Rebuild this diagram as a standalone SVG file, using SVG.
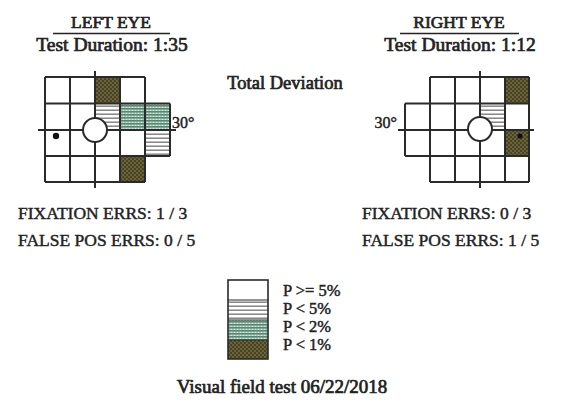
<svg xmlns="http://www.w3.org/2000/svg" width="561" height="407" viewBox="0 0 561 407">
<style>
.t{font-family:"Liberation Serif","Times New Roman",serif;fill:#222;stroke:#222;stroke-width:0.45}
.h{stroke-width:0.7}
.g{stroke:#2a2a2a;stroke-width:2;fill:none}
.c{fill:#fff;stroke:#2a2a2a;stroke-width:2}
</style>
<defs>
<pattern id="p5" width="4" height="4" patternUnits="userSpaceOnUse"><rect width="4" height="4" fill="#fff"/><rect y="1.5" width="4" height="1.4" fill="#7c7c7c"/></pattern>
<pattern id="p2" width="3" height="3" patternUnits="userSpaceOnUse"><rect width="3" height="3" fill="#dde9e2"/><rect width="3" height="1.6" fill="#4c836c"/><rect x="1.6" width="0.8" height="3" fill="#66967f"/></pattern>
<pattern id="p1" width="4" height="4" patternUnits="userSpaceOnUse"><rect width="4" height="4" fill="#4a4426"/><circle cx="1" cy="1" r="0.8" fill="#938a52"/><circle cx="3" cy="3" r="0.8" fill="#938a52"/></pattern>
</defs>
<rect width="561" height="407" fill="#fff"/>

<g id="left-eye">
<text class="t h" x="111" y="28" font-size="17.5" text-anchor="middle">LEFT EYE</text>
<line x1="53" y1="33.5" x2="170" y2="33.5" stroke="#222" stroke-width="1.6"/>
<text class="t h" x="112" y="51" font-size="19.5" text-anchor="middle">Test Duration: 1:35</text>
<rect x="95" y="77" width="25" height="26.5" fill="url(#p1)"/>
<rect x="95" y="103.5" width="25" height="26.5" fill="url(#p5)"/>
<rect x="120" y="103.5" width="50" height="26.5" fill="url(#p2)"/>
<rect x="145" y="130" width="25" height="26" fill="url(#p5)"/>
<rect x="120" y="156" width="25" height="26" fill="url(#p1)"/>
<path class="g" d="M45 77H145M45 103.5H170M38 130H176M45 156H170M45 182H145M45 77V182M70 77V182M95 71V188M120 77V182M145 77V182M170 103.5V156"/>
<circle class="c" cx="95" cy="130" r="12"/>
<circle cx="56" cy="136" r="3.2" fill="#111"/>
<text class="t" x="172" y="128" font-size="16">30°</text>
</g>

<g id="right-eye">
<text class="t h" x="459" y="28" font-size="17.5" text-anchor="middle">RIGHT EYE</text>
<line x1="400" y1="33.5" x2="519" y2="33.5" stroke="#222" stroke-width="1.6"/>
<text class="t h" x="460" y="51" font-size="19.5" text-anchor="middle">Test Duration: 1:12</text>
<rect x="505" y="77" width="24" height="26.5" fill="url(#p1)"/>
<rect x="480" y="103.5" width="25" height="26.5" fill="url(#p5)"/>
<rect x="505" y="130" width="24" height="26" fill="url(#p1)"/>
<path class="g" d="M430 77H529M405 103.5H529M398 130H534M405 156H529M430 182H529M405 103.5V156M430 77V182M455 77V182M480 71V188M505 77V182M529 77V182"/>
<circle class="c" cx="480" cy="129" r="12"/>
<circle cx="520" cy="136" r="2.6" fill="#111"/>
<text class="t" x="397" y="128" font-size="16" text-anchor="end">30°</text>
</g>

<g id="title">
<text class="t h" x="285" y="89" font-size="18.5" text-anchor="middle">Total Deviation</text>
</g>

<g id="left-stats">
<text class="t" x="18" y="219" font-size="17.5">FIXATION ERRS: 1 / 3</text>
<text class="t" x="18" y="246" font-size="17.5">FALSE POS ERRS: 0 / 5</text>
</g>
<g id="right-stats">
<text class="t" x="362" y="219" font-size="17.5">FIXATION ERRS: 0 / 3</text>
<text class="t" x="362" y="246" font-size="17.5">FALSE POS ERRS: 1 / 5</text>
</g>

<g id="legend">
<rect x="228" y="300" width="40" height="20" fill="url(#p5)"/>
<rect x="228" y="320" width="40" height="20" fill="url(#p2)"/>
<rect x="228" y="340" width="40" height="19" fill="url(#p1)"/>
<rect x="228" y="280" width="40" height="79" fill="none" stroke="#2a2a2a" stroke-width="1.6"/>
<path d="M228 300H268M228 320H268M228 340H268" stroke="#2a2a2a" stroke-width="1.2"/>
<text class="t" x="283" y="296" font-size="16.5">P &gt;= 5%</text>
<text class="t" x="283" y="314" font-size="16.5">P &lt; 5%</text>
<text class="t" x="283" y="332" font-size="16.5">P &lt; 2%</text>
<text class="t" x="283" y="350" font-size="16.5">P &lt; 1%</text>
</g>

<g id="caption">
<text class="t h" x="282" y="393" font-size="19" text-anchor="middle">Visual field test 06/22/2018</text>
</g>
</svg>
